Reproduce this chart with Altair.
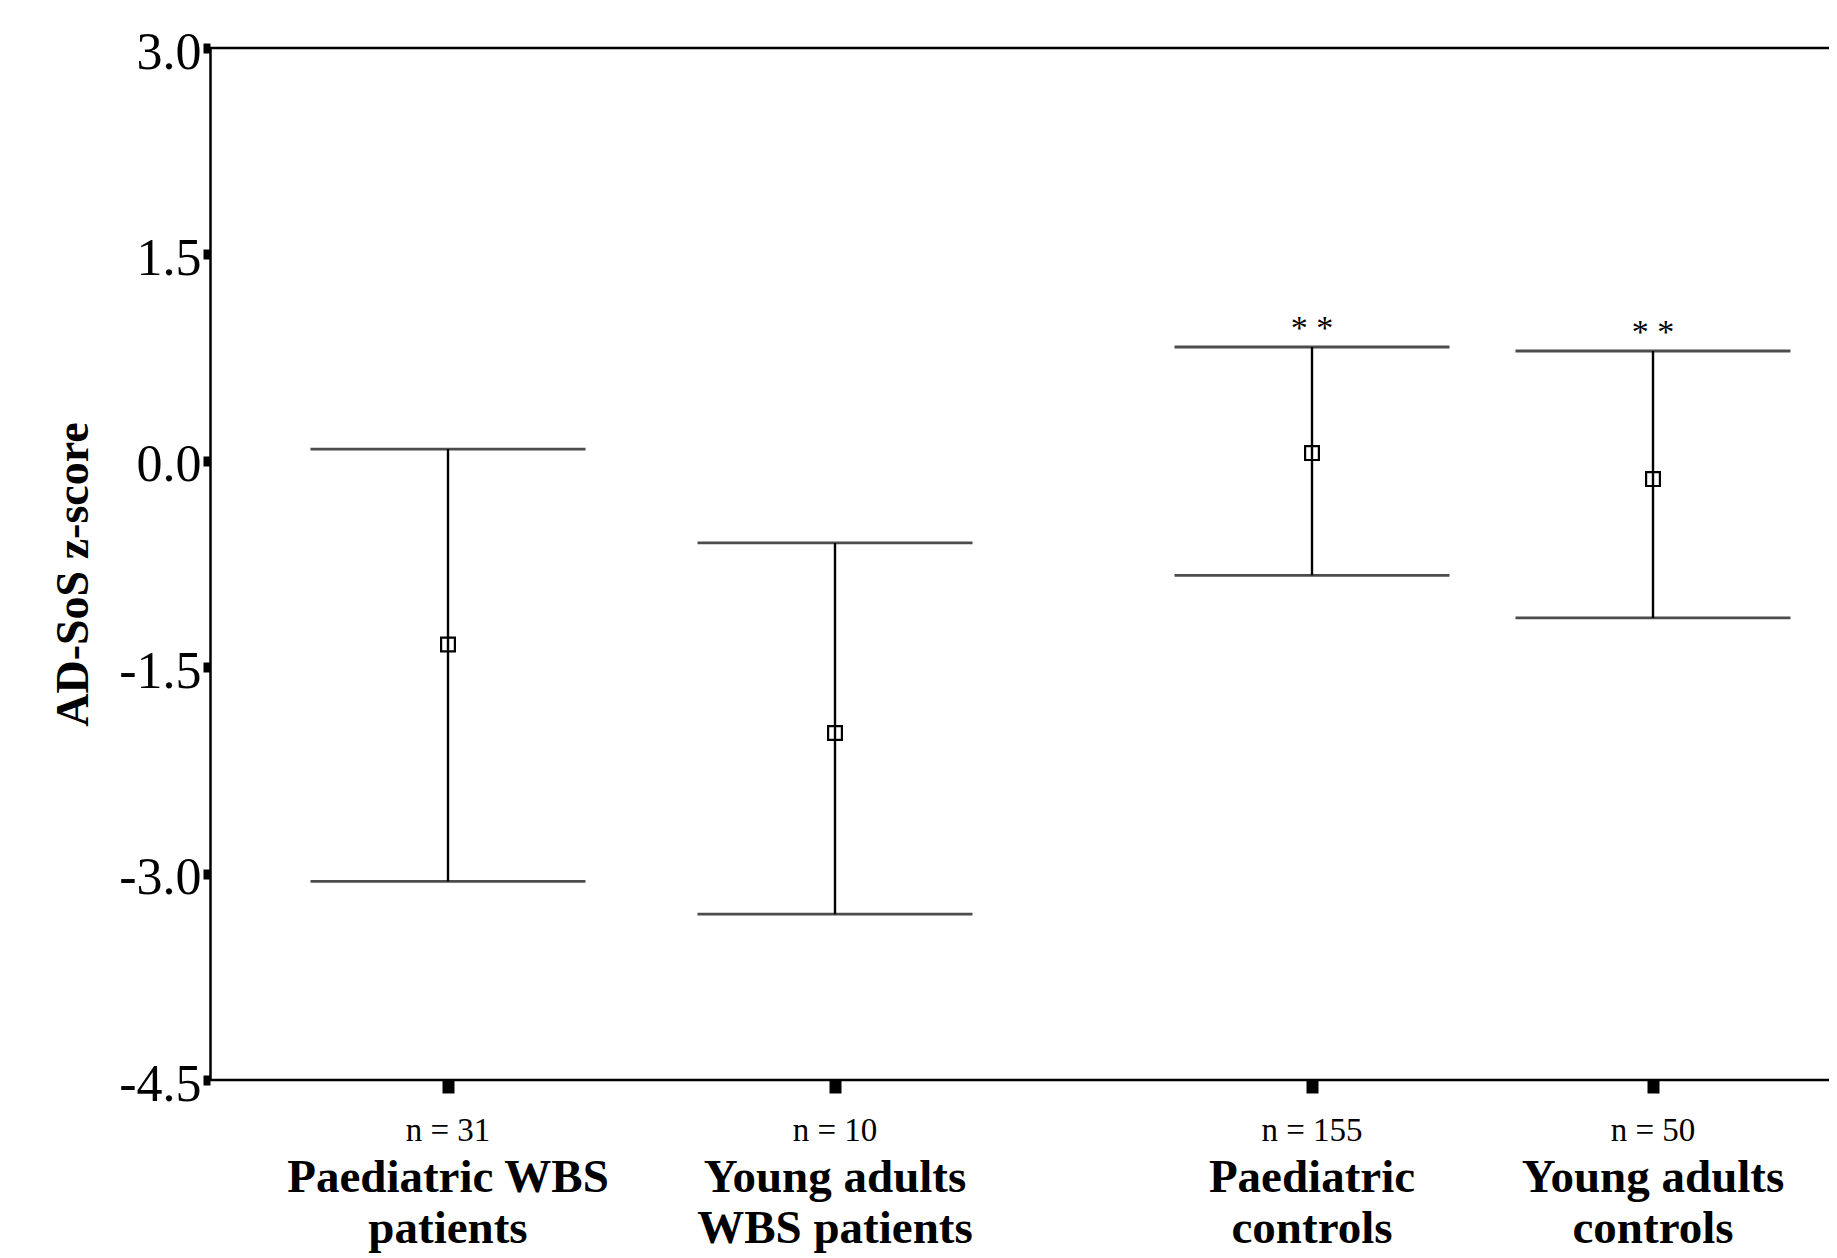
import altair as alt
import pandas as pd

# ---- data ----
groups = ["Paediatric WBS patients", "Young adults WBS patients",
          "Paediatric controls", "Young adults controls"]
group_labels = ["Paediatric WBS\npatients", "Young adults\nWBS patients",
                "Paediatric\ncontrols", "Young adults\ncontrols"]
n_sizes = [31, 10, 155, 50]
means = [-1.335, -1.978, 0.056, -0.133]
upper = [0.085, -0.597, 0.827, 0.798]
lower = [-3.057, -3.295, -0.832, -1.142]
significance = ["", "", "* *", "* *"]
y_ticks = [-4.5, -3.0, -1.5, 0.0, 1.5, 3.0]

df = pd.DataFrame({
    "group": groups,
    "label": group_labels,
    "idx": list(range(len(groups))),
    "nlabel": [f"n = {n}" for n in n_sizes],
    "mean": means,
    "upper": upper,
    "lower": lower,
    "sig": significance,
})

W = 1619
H = 1032
SERIF = "Liberation Serif"

xscale = alt.Scale(domain=[0, 1, 2, 3], range=[238, 625, 1102, 1443], nice=False, zero=False)
yscale = alt.Scale(domain=[-4.5, 3.0], nice=False, zero=False)

x_enc = alt.X("idx:Q", scale=xscale,
              axis=alt.Axis(values=[0, 1, 2, 3], labels=False, title=None, grid=False,
                            domain=False, tickSize=13, tickWidth=12, tickColor="black"))
y_axis = alt.Axis(values=y_ticks, grid=False, title="AD-SoS z-score",
                  labelExpr="(datum.value < 0 ? '-' : '') + format(abs(datum.value), '.1f')",
                  labelFont=SERIF, labelFontSize=52, labelColor="black", labelPadding=2,
                  labelFlush=False, labelOverlap=False, labelBaseline="middle", labelOffset=4,
                  tickSize=7, tickWidth=10, tickColor="black",
                  domainWidth=2.5, domainColor="black",
                  titleFont=SERIF, titleFontSize=46, titleFontWeight="bold", titleColor="black",
                  titleX=-137, titleY=H / 2 + 10, titleAngle=270, titleAlign="center",
                  titleBaseline="middle")

base = alt.Chart(df)

whisker = base.mark_rule(color="black", strokeWidth=2.4).encode(
    x=x_enc,
    y=alt.Y("lower:Q", scale=yscale, axis=y_axis),
    y2="upper:Q",
)
cap_hi = base.mark_tick(color="black", orient="horizontal", size=275, thickness=2.8).encode(
    x="idx:Q", y="upper:Q")
cap_lo = base.mark_tick(color="black", orient="horizontal", size=275, thickness=2.8).encode(
    x="idx:Q", y="lower:Q")
pts = base.mark_point(shape="square", size=190, filled=False, color="black",
                      strokeWidth=2.2, opacity=1).encode(x="idx:Q", y="mean:Q")
stars = base.mark_text(font=SERIF, fontSize=34, color="black", baseline="alphabetic",
                       dy=-8).encode(x="idx:Q", y="upper:Q", text="sig:N")
nlab = base.mark_text(font=SERIF, fontSize=33, color="black", baseline="alphabetic").encode(
    x="idx:Q", y=alt.value(H + 61), text="nlabel:N")
names = base.mark_text(font=SERIF, fontSize=47, fontWeight="bold", color="black",
                       baseline="alphabetic", lineBreak="\n", lineHeight=51).encode(
    x="idx:Q", y=alt.value(H + 112), text="label:N")

frame_df = pd.DataFrame({"k": [0]})
top_border = alt.Chart(frame_df).mark_rule(color="black", strokeWidth=2.5).encode(
    x=alt.value(0), x2=alt.value(W), y=alt.value(0))
bottom_border = alt.Chart(frame_df).mark_rule(color="black", strokeWidth=2.5).encode(
    x=alt.value(0), x2=alt.value(W), y=alt.value(H))

chart = alt.layer(whisker, cap_hi, cap_lo, pts, stars, nlab, names, top_border, bottom_border).properties(
    width=W, height=H,
    autosize=alt.AutoSizeParams(type="none"),
    padding={"left": 202, "top": 40, "right": 0, "bottom": 176},
    background="white",
).configure_view(stroke=None)

chart.save("out.html", embed_options={"renderer": "svg", "actions": False})
